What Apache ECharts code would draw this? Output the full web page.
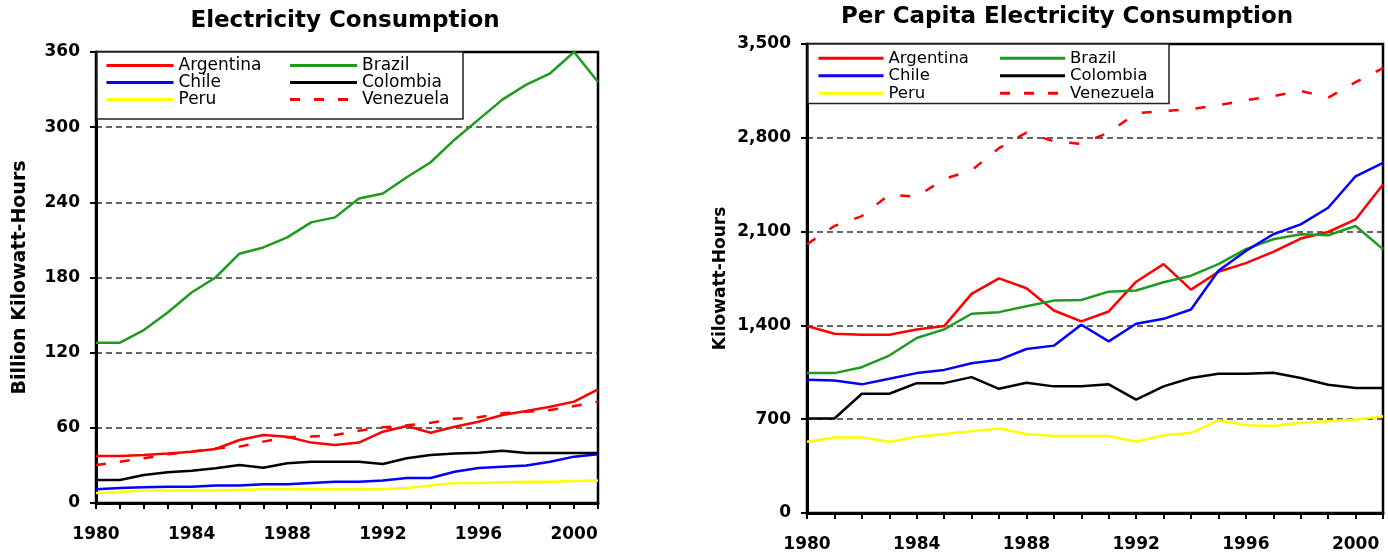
<!DOCTYPE html>
<html>
<head>
<meta charset="utf-8">
<script src="https://cdn.jsdelivr.net/npm/echarts@6/dist/echarts.min.js"></script>
<style>
html,body{margin:0;padding:0;background:#fff;}
#chart{width:1388px;height:554px;}
</style>
</head>
<body>
<div id="chart"></div>
<script>
// ---- data ----
const years = [1980,1981,1982,1983,1984,1985,1986,1987,1988,1989,1990,1991,1992,1993,1994,1995,1996,1997,1998,1999,2000,2001];
const countries = ['Argentina','Brazil','Chile','Colombia','Peru','Venezuela'];

// Electricity consumption (billion kWh)
const totalArgentina = [37.5,37.5,38.3,39.6,41,43.1,50.3,54.3,52.9,48.2,46.3,48.2,56.9,61.5,56.1,60.9,64.9,70.2,73.4,76.9,80.9,90.7];
const totalBrazil    = [128,128,138,152,168,180,199,204,212,224,228,243,247,260,272,290,306,322,334,343,360,336];
const totalChile     = [11,12,12.5,13,13,14,14,15,15,16,17,17,18,20,20,25,28,29,30,33,37,39];
const totalColombia  = [18.4,18.4,22.3,24.5,25.8,27.7,30.3,28.2,31.7,33,33,33,31.1,35.7,38.3,39.6,40.2,41.8,40,40,40,40];
const totalPeru      = [8,9,10,10,10,10,10.5,11,11,11,11,11,11,12,14,16,16,16.5,17,17,17.5,18];
const totalVenezuela = [30.3,33,35.7,38.9,41,43.6,45,49,52.4,53,54.3,57.7,60.4,62,64,67.3,68.4,71.6,72.9,74.2,77.4,80.9];

// Per capita electricity consumption (kWh)
const pcArgentina = [1395,1338,1330,1330,1370,1395,1635,1751,1677,1511,1430,1504,1726,1857,1667,1800,1865,1949,2048,2097,2191,2451];
const pcBrazil    = [1044,1044,1088,1175,1306,1370,1487,1499,1543,1585,1590,1652,1660,1722,1771,1857,1969,2043,2080,2073,2142,1969];
const pcChile     = [994,989,960,1002,1044,1068,1118,1143,1224,1249,1405,1281,1412,1449,1519,1808,1956,2080,2154,2278,2513,2612];
const pcColombia  = [705,705,890,890,969,969,1014,927,972,945,945,960,846,945,1007,1039,1039,1046,1007,957,932,932];
const pcPeru      = [532,564,564,532,569,589,611,631,589,574,574,574,532,581,598,692,655,650,673,685,697,722];
const pcVenezuela = [2006,2142,2216,2377,2360,2493,2557,2723,2839,2773,2755,2840,2984,3000,3014,3044,3080,3111,3150,3100,3215,3320];

const leftTicks = {min:0, max:360, interval:60};
const rightTicks = {min:0, max:3500, interval:700};
const xTicks = {min:1980, max:2001, interval:1, labelEvery:4};

// ---- styling ----
const colors = {Argentina:'#ff0000', Brazil:'#1e9b1e', Chile:'#0000ff', Colombia:'#000000', Peru:'#ffff00', Venezuela:'#ff0000'};
const FONT = 'DejaVu Sans';

function pairs(vals){ return years.map((y,i)=>[y, vals[i]]); }

function makeSeries(name, vals, idx, dash){
  return {
    name: name, type:'line', xAxisIndex: idx, yAxisIndex: idx,
    data: pairs(vals), symbol:'none', showSymbol:false, smooth:false,
    lineStyle:{color: colors[name], width: 2.5, type: name==='Venezuela' ? dash : 'solid'},
    itemStyle:{color: colors[name]},
    emphasis:{disabled:true}
  };
}

function xAxis(idx){
  return {
    type:'value', gridIndex: idx, min:xTicks.min, max:xTicks.max, interval:xTicks.interval,
    axisLine:{show:true, onZero:false, lineStyle:{color:'#000', width:3}},
    axisTick:{show:true, inside:false, length:6, lineStyle:{color:'#000', width:2}},
    splitLine:{show:false},
    axisLabel:{
      color:'#000', fontFamily:FONT, fontWeight:'bold', fontSize:17, margin:23,
      formatter:(v)=> ((v - xTicks.min) % xTicks.labelEvery === 0 ? String(v) : '')
    }
  };
}

function yAxis(idx, t, name, nameGap, nameSize, fmt){
  return {
    type:'value', gridIndex: idx, min:t.min, max:t.max, interval:t.interval,
    name: name, nameLocation:'middle', nameRotate:90, nameGap: nameGap,
    nameTextStyle:{color:'#000', fontFamily:FONT, fontWeight:'bold', fontSize:nameSize},
    axisLine:{show:true, lineStyle:{color:'#000', width:3}},
    axisTick:{show:true, inside:false, length:6, lineStyle:{color:'#000', width:2}},
    splitLine:{show:true, showMinLine:false, showMaxLine:false, lineStyle:{color:'#333', width:1.5, type:[6,4]}},
    axisLabel:{color:'#000', fontFamily:FONT, fontWeight:'bold', fontSize:17, margin:16, formatter: fmt}
  };
}

function legend(left, top, padding, iw, fs, lh, w1, w2){
  const leftCol = ['Argentina','Chile','Peru'];
  return {
    left:left, top:top, orient:'horizontal', width:350, padding:padding,
    itemGap:0, itemWidth:iw, itemHeight:Math.round(lh),
    backgroundColor:'#fff', borderColor:'#222', borderWidth:1.5,
    selectedMode:false,
    data: countries.slice(),
    lineStyle:{width:3},
    itemStyle:{opacity:0, color:'transparent', borderColor:'transparent', borderWidth:0},
    formatter:(n)=> leftCol.indexOf(n) >= 0 ? '{a|' + n + '}' : '{b|' + n + '}',
    textStyle:{
      color:'#000', fontFamily:FONT, fontSize:fs, lineHeight:lh,
      rich:{
        a:{width:w1, color:'#000', fontFamily:FONT, fontSize:fs, lineHeight:lh},
        b:{width:w2, color:'#000', fontFamily:FONT, fontSize:fs, lineHeight:lh}
      }
    }
  };
}

const series = [];
const totals = [totalArgentina,totalBrazil,totalChile,totalColombia,totalPeru,totalVenezuela];
const pcs = [pcArgentina,pcBrazil,pcChile,pcColombia,pcPeru,pcVenezuela];
countries.forEach((c,i)=> series.push(makeSeries(c, totals[i], 0, [10,14])));
countries.forEach((c,i)=> series.push(makeSeries(c, pcs[i], 1, [10,17])));

const option = {
  animation:false,
  backgroundColor:'#fff',
  title:[
    {text:'Electricity Consumption', left:345, top:10, textAlign:'center', padding:0,
     textStyle:{color:'#000', fontFamily:FONT, fontWeight:'bold', fontSize:23}},
    {text:'Per Capita Electricity Consumption', left:1067, top:6, textAlign:'center', padding:0,
     textStyle:{color:'#000', fontFamily:FONT, fontWeight:'bold', fontSize:23}}
  ],
  grid:[
    {left:96, top:52, width:502, height:451, show:true, borderColor:'#000', borderWidth:2.5, backgroundColor:'transparent'},
    {left:807, top:44, width:576, height:469, show:true, borderColor:'#000', borderWidth:2.5, backgroundColor:'transparent'}
  ],
  xAxis:[xAxis(0), xAxis(1)],
  yAxis:[
    yAxis(0, leftTicks, 'Billion Kilowatt-Hours', 66, 19, (v)=>String(v)),
    yAxis(1, rightTicks, 'Kilowatt-Hours', 78, 17, (v)=>v.toLocaleString('en-US'))
  ],
  legend:[
    legend(97, 52, [5,11,11,8], 67, 17, 16.5, 110, 90),
    legend(808, 44, [5.5,7,1.5,9], 65, 16.5, 17.5, 110, 92)
  ],
  series: series
};

const chart = echarts.init(document.getElementById('chart'), null, {renderer:'canvas'});
chart.setOption(option);
</script>
</body>
</html>
